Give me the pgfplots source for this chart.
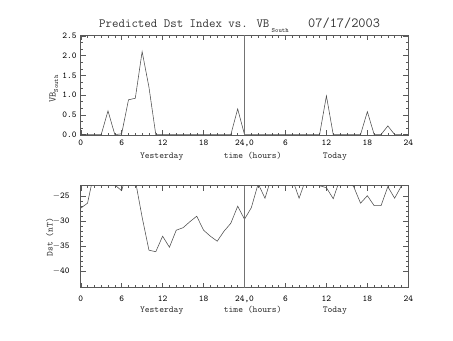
\documentclass[border=0pt]{standalone}
\usepackage{pgfplots}
\pgfplotsset{compat=1.18}
\begin{document}
\begin{tikzpicture}[x=1bp,y=1bp]
\useasboundingbox (0,0) rectangle (453,340);
\pgfplotsset{
  idl/.style={
    scale only axis, width=327.6bp,
    axis line style={black!65, line width=0.5pt},
    tick style={black!65, line width=0.4pt},
    major tick length=5bp, minor tick length=2.5bp,
    tick align=inside,
    xmin=0, xmax=48,
    xtick={0,6,12,18,24,30,36,42,48},
    xticklabels={0,6,12,18,{24,0},6,12,18,24},
    minor x tick num=5,
    font=\ttfamily\fontsize{9}{10}\selectfont,
    xticklabel style={anchor=base, inner sep=0pt},
    yticklabel style={anchor=east, inner sep=0pt},
    clip=true,
  },
}
% ---------- top panel ----------
\begin{axis}[idl, at={(80.7bp,205bp)}, anchor=south west, height=100bp,
  ymin=-0.01, ymax=2.52,
  ytick={0,0.5,1,1.5,2,2.5},
  yticklabels={0.0,0.5,1.0,1.5,2.0,2.5},
  minor y tick num=2,
  xticklabel style={yshift=-10bp},
  yticklabel style={xshift=-4bp},
]
\addplot[black!70, line width=0.55pt] coordinates {
(0,0)(1,0)(2,0)(3,0)(4,0.6)(5,0)(6,0.02)(7,0.88)(8,0.92)(9,2.1)(10,1.2)(11,0)
(12,0)(13,0)(14,0)(15,0)(16,0)(17,0)(18,0)(19,0)(20,0)(21,0)(22,0)(23,0.65)
(24,0)(25,0)(26,0)(27,0)(28,0)(29,0)(30,0)(31,0)(32,0)(33,0)(34,0)(35,0)
(36,0.98)(37,0)(38,0)(39,0)(40,0)(41,0)(42,0.58)(43,0)(44,0)(45,0.22)(46,0)(47,0)
};
\draw[black!55, line width=0.5pt] (axis cs:24,-0.01) -- (axis cs:24,2.52);
\end{axis}
% ---------- bottom panel ----------
\begin{axis}[idl, at={(80.7bp,52.3bp)}, anchor=south west, height=102bp,
  ymin=-43.3, ymax=-22.9,
  ytick={-40,-35,-30,-25},
  yticklabels={$-$40,$-$35,$-$30,$-$25},
  minor y tick num=4,
  xticklabel style={yshift=-14bp},
  yticklabel style={xshift=-11bp},
]
\addplot[black!70, line width=0.55pt] coordinates {
(0,-27.4)(1,-26.4)(2,-20)(3,-19.5)(4,-20)(5,-22.75)(6,-23.9)(7,-19)(8,-21.8)
(9,-29.2)(10,-35.8)(11,-36.1)(12,-33.0)(13,-35.2)(14,-31.8)(15,-31.3)(16,-30.1)
(17,-29.0)(18,-31.8)(19,-33.0)(20,-34.0)(21,-32.0)(22,-30.4)(23,-27.0)(24,-29.6)
(25,-27.3)(26,-22.5)(27,-25.4)(28,-21)(29,-21)(30,-21)(31,-21.5)(32,-25.4)
(33,-21.5)(34,-21.5)(35,-22.9)(36,-23.3)(37,-25.5)(38,-21.5)(39,-21.5)(40,-23.1)
(41,-26.4)(42,-24.9)(43,-26.9)(44,-26.9)(45,-23.1)(46,-25.4)(47,-22.9)
};
\draw[black!55, line width=0.5pt] (axis cs:24,-43.3) -- (axis cs:24,-22.9);
\end{axis}
% ---------- texts ----------
\begin{scope}[font=\ttfamily, text=black!80]
\node[anchor=base west, inner sep=0pt] at (99,312.3) {\fontsize{12.6}{14}\selectfont Predicted Dst Index vs. VB};
\node[anchor=base west, inner sep=0pt] at (271.5,307.5) {\fontsize{6.5}{7}\selectfont\bfseries South};
\node[anchor=base west, inner sep=0pt] at (308,312.3) {\fontsize{14}{15}\selectfont 07/17/2003};
% top x row
\node[anchor=base, inner sep=0pt] at (161.7,181.3) {\fontsize{9.2}{10}\selectfont Yesterday};
\node[anchor=base, inner sep=0pt] at (252.7,181.3) {\fontsize{9.2}{10}\selectfont time (hours)};
\node[anchor=base, inner sep=0pt] at (334.8,181.3) {\fontsize{9.2}{10}\selectfont Today};
% bottom x row
\node[anchor=base, inner sep=0pt] at (161.7,27.3) {\fontsize{9.2}{10}\selectfont Yesterday};
\node[anchor=base, inner sep=0pt] at (252.7,27.3) {\fontsize{9.2}{10}\selectfont time (hours)};
\node[anchor=base, inner sep=0pt] at (334.8,27.3) {\fontsize{9.2}{10}\selectfont Today};
% y labels
\node[rotate=90, anchor=base, inner sep=0pt] at (55.5,251) {\fontsize{10}{11}\selectfont VB\raisebox{-2.5bp}{\fontsize{6.5}{7}\selectfont\bfseries South}};
\node[rotate=90, anchor=base, inner sep=0pt] at (52.5,103) {\fontsize{9.2}{10}\selectfont Dst (nT)};
\end{scope}
\end{tikzpicture}
\end{document}
